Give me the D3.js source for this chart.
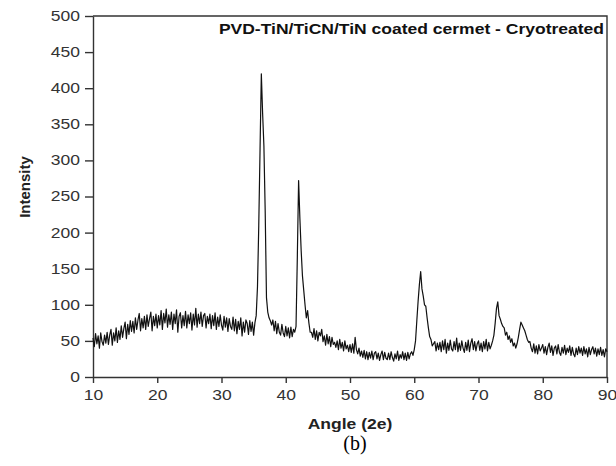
<!DOCTYPE html>
<html lang="en">
  <head>
    <meta charset="UTF-8" />
    <title>XRD</title>
    <style>
      body { margin: 0; background: #fff; }
      svg { display: block; }
    </style>
  </head>
  <body>
    <svg id="chart-d3"></svg>
  </body>
</html>

<script src="https://cdnjs.cloudflare.com/ajax/libs/d3/7.0.1/d3.js"></script>

<script>
  // 2θ 從 10 到 90, 每 0.2 一點.
  const angleStart = 10;
  const angleStep = 0.2;

  // 每列 10 點 = 2 度.
  const intensity = [
    54, 42, 60, 46, 57, 40, 61, 49, 44, 58, // 10
    47, 62, 45, 58, 66, 44, 61, 50, 68, 48, // 12
    64, 52, 71, 55, 67, 76, 53, 73, 59, 78, // 14
    63, 77, 61, 82, 66, 79, 88, 64, 81, 68, // 16
    84, 66, 86, 70, 81, 90, 64, 84, 71, 87, // 18
    68, 85, 72, 92, 66, 88, 75, 94, 69, 86, // 20
    73, 90, 66, 87, 74, 93, 62, 84, 89, 68, // 22
    85, 71, 91, 68, 86, 74, 89, 65, 87, 72, // 24
    95, 69, 87, 74, 90, 70, 85, 88, 68, 84, // 26
    74, 87, 67, 85, 71, 89, 66, 83, 70, 86, // 28
    72, 65, 84, 69, 82, 63, 81, 70, 66, 83, // 30
    64, 80, 60, 77, 66, 82, 57, 76, 62, 79, // 32
    74, 59, 78, 63, 76, 58, 75, 85, 125, 210, // 34
    315, 420, 365, 320, 230, 110, 90, 82, 78, 72, // 36
    79, 64, 77, 60, 74, 62, 58, 73, 61, 56, // 38
    70, 57, 68, 54, 69, 56, 66, 62, 70, 165, // 40
    272, 220, 175, 140, 120, 100, 82, 92, 75, 62, // 42
    62, 55, 67, 52, 64, 50, 62, 57, 66, 49, // 44
    57, 44, 59, 46, 56, 42, 55, 45, 48, 41, // 46
    50, 38, 52, 40, 48, 36, 50, 39, 44, 35, // 48
    45, 34, 46, 33, 55, 38, 32, 40, 29, 36, // 50
    27, 37, 25, 35, 24, 34, 26, 36, 24, 33, // 52
    35, 25, 33, 23, 31, 36, 24, 34, 26, 24, // 54
    33, 24, 35, 27, 22, 32, 25, 36, 23, 31, // 56
    26, 35, 24, 33, 23, 34, 25, 32, 35, 30, // 58
    38, 50, 78, 105, 128, 146, 122, 112, 100, 98, // 60
    82, 68, 56, 52, 43, 46, 49, 36, 47, 38, // 62
    48, 35, 50, 38, 52, 33, 47, 37, 51, 39, // 64
    36, 49, 38, 54, 35, 47, 37, 50, 40, 34, // 66
    48, 37, 51, 35, 47, 53, 38, 49, 36, 46, // 68
    50, 37, 47, 35, 49, 39, 52, 36, 48, 39, // 70
    44, 50, 58, 75, 95, 104, 85, 80, 74, 70, // 72
    68, 58, 62, 52, 57, 48, 53, 43, 47, 40, // 74
    46, 55, 66, 76, 72, 68, 64, 58, 52, 48, // 76
    49, 40, 35, 46, 33, 43, 32, 45, 36, 40, // 78
    45, 33, 42, 31, 41, 47, 34, 43, 30, 40, // 80
    43, 32, 45, 34, 30, 41, 33, 44, 31, 40, // 82
    34, 43, 30, 41, 32, 28, 40, 31, 42, 33, // 84
    40, 30, 42, 32, 39, 28, 41, 31, 38, 42, // 86
    32, 40, 29, 39, 31, 41, 30, 38, 28, 39, // 88
    35, // 90
  ];

  const xTicks = [10, 20, 30, 40, 50, 60, 70, 80, 90];
  const yTicks = [0, 50, 100, 150, 200, 250, 300, 350, 400, 450, 500];

  const titleText = "PVD-TiN/TiCN/TiN coated cermet - Cryotreated";
  const xLabel = "Angle (2e)";
  const yLabel = "Intensity";
  const panelLabel = "(b)";
</script>

<script>
  // 原圖的字有被橫向拉寬, 用 textLength 撐開.
  function stretch(sel, k) {
    sel.each(function () {
      const w = this.getComputedTextLength();
      d3.select(this)
        .attr("textLength", w * k)
        .attr("lengthAdjust", "spacingAndGlyphs");
    });
  }

  function getChart({ width = 616, height = 466 }) {
    const chart = d3.select("#chart-d3"),
      margin = { left: 93, top: 16, right: 9, bottom: 89 },
      x = d3
        .scaleLinear()
        .domain([10, 90])
        .range([margin.left, width - margin.right]),
      y = d3
        .scaleLinear()
        .domain([0, 500])
        .range([height - margin.bottom, margin.top]),
      font = "'Liberation Sans', Arial, sans-serif",
      axisColor = "#333";

    chart.attr("width", width).attr("height", height);

    const points = intensity.map((v, i) => ({
      angle: angleStart + i * angleStep,
      value: v,
    }));

    // 外框 (上, 右).
    chart
      .append("path")
      .attr("d", `M${x(10)},${y(500)}H${x(90)}V${y(0)}`)
      .attr("fill", "none")
      .attr("stroke", axisColor)
      .attr("stroke-width", 1.4);

    // x 軸.
    const gx = chart
      .append("g")
      .attr("transform", `translate(0, ${y(0)})`)
      .call(
        d3.axisBottom(x).tickValues(xTicks).tickSize(6).tickSizeOuter(0).tickPadding(7)
      );

    // y 軸.
    const gy = chart
      .append("g")
      .attr("transform", `translate(${x(10)}, 0)`)
      .call(
        d3.axisLeft(y).tickValues(yTicks).tickSize(8).tickSizeOuter(0).tickPadding(5)
      );

    [gx, gy].forEach((g) => {
      g.select(".domain").attr("stroke", axisColor).attr("stroke-width", 1.4);
      g.selectAll(".tick line").attr("stroke", axisColor).attr("stroke-width", 1.4);
      g.selectAll(".tick text")
        .attr("fill", "#333")
        .style("font-family", font)
        .style("font-size", "14px");
    });
    stretch(gx.selectAll(".tick text"), 1.25);
    stretch(gy.selectAll(".tick text"), 1.25);

    // 曲線.
    const line = d3
      .line()
      .x((d) => x(d.angle))
      .y((d) => y(d.value));

    chart
      .append("path")
      .datum(points)
      .attr("d", line)
      .attr("fill", "none")
      .attr("stroke", "#111")
      .attr("stroke-width", 1.2)
      .attr("stroke-linejoin", "round");

    // 標題.
    chart
      .append("text")
      .attr("x", 604)
      .attr("y", 34)
      .attr("text-anchor", "end")
      .style("font-family", font)
      .style("font-weight", "bold")
      .style("font-size", "14px")
      .attr("fill", "#111")
      .text(titleText)
      .call(stretch, 1.25);

    // x 軸標籤.
    chart
      .append("text")
      .attr("x", 350)
      .attr("y", 429)
      .attr("text-anchor", "middle")
      .style("font-family", font)
      .style("font-weight", "bold")
      .style("font-size", "14px")
      .attr("fill", "#222")
      .text(xLabel)
      .call(stretch, 1.25);

    // y 軸標籤.
    chart
      .append("text")
      .attr("transform", `translate(30, 187) rotate(-90)`)
      .attr("text-anchor", "middle")
      .style("font-family", font)
      .style("font-weight", "bold")
      .style("font-size", "15px")
      .attr("fill", "#222")
      .text(yLabel);

    // (b).
    chart
      .append("text")
      .attr("x", 355)
      .attr("y", 450)
      .attr("text-anchor", "middle")
      .style("font-family", "'Liberation Serif', 'Times New Roman', serif")
      .style("font-size", "20px")
      .attr("fill", "#000")
      .text(panelLabel);
  }

  getChart({});
</script>
